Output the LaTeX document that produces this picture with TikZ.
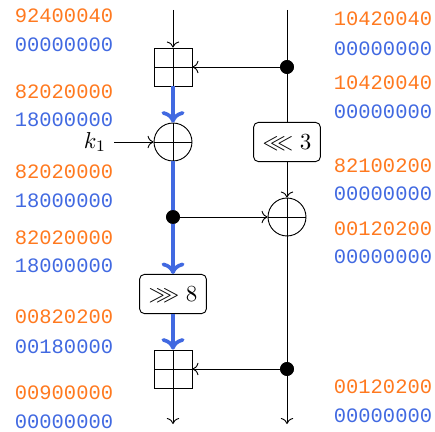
\documentclass[tikz,border=0pt]{standalone}
\usepackage{amssymb}
\usepackage{fontspec}
\newfontfamily\hexfont{Liberation Mono}
\usetikzlibrary{arrows.meta}
\definecolor{hexorange}{RGB}{255,121,31}
\definecolor{hexblue}{RGB}{65,105,225}
\tikzset{
  hexo/.style={font=\hexfont\fontsize{8.9}{10}\selectfont, text=hexorange, inner sep=0pt},
  hexb/.style={font=\hexfont\fontsize{8.9}{10}\selectfont, text=hexblue, inner sep=0pt},
  addbox/.style={draw, rectangle, minimum size=16.5pt, inner sep=0pt,
    path picture={\draw (path picture bounding box.north) -- (path picture bounding box.south)
      (path picture bounding box.west) -- (path picture bounding box.east);}},
  xorc/.style={draw, circle, minimum size=16.5pt, inner sep=0pt,
    path picture={\draw (path picture bounding box.north) -- (path picture bounding box.south)
      (path picture bounding box.west) -- (path picture bounding box.east);}},
  rotbox/.style={draw, rounded corners=2pt, minimum width=29pt, minimum height=17pt, inner sep=1pt},
  dotn/.style={circle, fill=black, minimum size=6pt, inner sep=0pt},
  arr/.style={-{Computer Modern Rightarrow[length=2.6pt,width=5.4pt]}, line width=0.4pt},
  bluearr/.style={-{Computer Modern Rightarrow[length=5pt,width=10pt]}, draw=hexblue, line width=1.6pt},
  blueln/.style={draw=hexblue, line width=1.6pt},
}
\begin{document}
\begin{tikzpicture}[x=0.4348pt, y=-0.4348pt]
\useasboundingbox (0,0) rectangle (435,432);
% left column nodes
\coordinate (ltop) at (173,10);
\node[addbox] (add1) at (173,67) {};
\node[xorc] (xor1) at (173,142) {};
\node (k1) at (95,142) {$k_1$};
\node[dotn] (dot1) at (173,217) {};
\node[rotbox] (rot8) at (173,294) {$\ggg 8$};
\node[addbox] (add2) at (173,369) {};
\coordinate (lbot) at (173,424);
% right column
\coordinate (rtop) at (287,10);
\node[dotn] (dot2) at (287,67) {};
\node[rotbox] (rot3) at (287,142) {$\lll 3$};
\node[xorc] (xor2) at (287,217) {};
\node[dotn] (dot3) at (287,369) {};
\coordinate (rbot) at (287,424);
% connectors
\draw[arr] (ltop) -- (add1.north);
\draw[bluearr] (add1.south) -- (xor1.north);
\draw[arr] (k1.east) -- (xor1.west);
\draw[blueln] (xor1.south) -- (dot1.center);
\draw[bluearr] (dot1.center) -- (rot8.north);
\draw[bluearr] (rot8.south) -- (add2.north);
\draw[arr] (add2.south) -- (lbot);
\draw (rtop) -- (dot2.center);
\draw[arr] (dot2.center) -- (add1.east);
\draw (dot2.center) -- (rot3.north);
\draw[arr] (rot3.south) -- (xor2.north);
\draw[arr] (dot1.center) -- (xor2.west);
\draw (xor2.south) -- (dot3.center);
\draw[arr] (dot3.center) -- (add2.east);
\draw[arr] (dot3.center) -- (rbot);
\node[dotn] at (dot1) {};
\node[dotn] at (dot2) {};
\node[dotn] at (dot3) {};
% left texts
\node[hexo] (l1o) at (64,16) {92400040};
\node[hexb] (l1b) at (64,45) {00000000};
\node[hexo] (l2o) at (64,92) {82020000};
\node[hexb] (l2b) at (64,120) {18000000};
\node[hexo] (l3o) at (64,172) {82020000};
\node[hexb] (l3b) at (64,201) {18000000};
\node[hexo] (l4o) at (64,238) {82020000};
\node[hexb] (l4b) at (64,266) {18000000};
\node[hexo] (l5o) at (64,317) {00820200};
\node[hexb] (l5b) at (64,347) {00180000};
\node[hexo] (l6o) at (64,393) {00900000};
\node[hexb] (l6b) at (64,422) {00000000};
% right texts
\node[hexo] (r1o) at (383,19) {10420040};
\node[hexb] (r1b) at (383,49) {00000000};
\node[hexo] (r2o) at (383,83) {10420040};
\node[hexb] (r2b) at (383,112) {00000000};
\node[hexo] (r3o) at (383,166) {82100200};
\node[hexb] (r3b) at (383,194) {00000000};
\node[hexo] (r4o) at (383,229) {00120200};
\node[hexb] (r4b) at (383,257) {00000000};
\node[hexo] (r5o) at (383,387) {00120200};
\node[hexb] (r5b) at (383,416) {00000000};
\end{tikzpicture}
\end{document}
